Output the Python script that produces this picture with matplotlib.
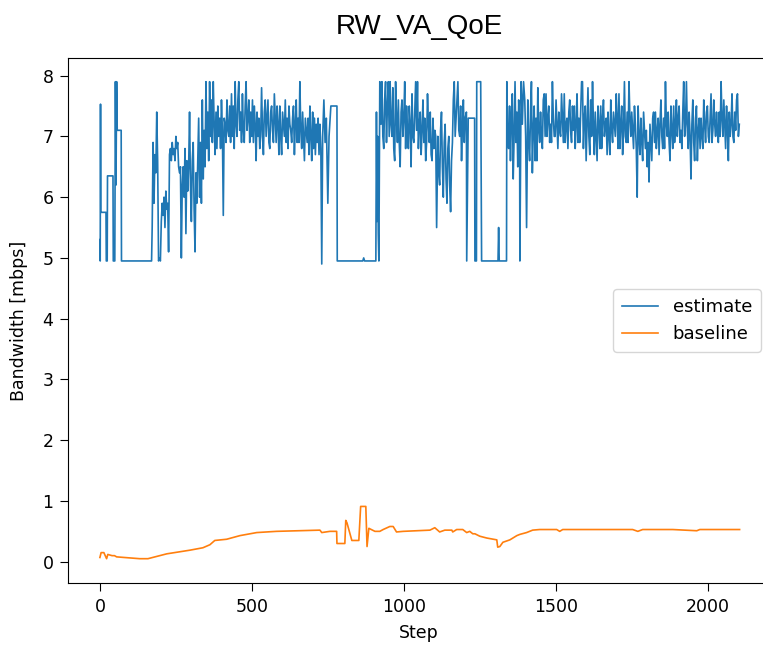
import numpy as np
import matplotlib
matplotlib.use("Agg")
import matplotlib.pyplot as plt

# estimate: irregular start (steps, values)
est_start_steps = [0, 1, 2, 3, 20, 21, 24, 25, 43, 44, 49, 51, 53, 55, 57, 70, 71, 170]
est_start_vals = [5.3, 4.95, 7.53, 5.75, 5.75, 4.95, 4.95, 6.35, 6.35, 4.95, 4.95, 7.9,
                  6.2, 7.9, 7.1, 7.1, 4.95, 4.95]

# estimate: noisy part, one value every 3 steps from step 172
est_a_vals = [5.5, 6.9, 5.9, 6.7, 6.4, 7.4, 6.6, 4.95, 5.0, 4.95,
              5.6, 5.9, 5.7, 6.0, 5.5, 6.1, 5.8, 5.9, 5.1, 6.7,
              6.8, 6.6, 6.9, 6.7, 6.8, 6.6, 7.0, 6.8, 6.9, 6.5,
              6.4, 6.5, 5.0, 6.2, 6.5, 6.0, 6.8, 5.4, 6.6, 6.1,
              6.5, 7.4, 6.2, 5.6, 6.6, 6.9, 5.8, 5.1, 6.4, 5.9,
              6.6, 7.3, 6.0, 6.9, 5.9, 7.6, 6.3, 7.1, 6.5, 7.9,
              6.8, 7.4, 6.6, 7.9, 7.0, 7.6, 6.9, 7.9, 7.2, 6.7,
              7.4, 6.8, 7.5, 7.0, 7.3, 6.8, 7.6, 7.1, 5.7, 7.3,
              7.2, 6.9, 7.6, 7.1, 7.0, 7.5, 6.9, 7.7, 7.0, 7.5,
              6.8, 7.9, 7.2, 7.0, 7.6, 7.9, 7.1, 7.4, 6.9, 7.7,
              7.1, 6.9, 7.5, 7.9, 7.1, 7.3, 7.6, 6.9, 7.4, 7.0,
              7.6, 6.9, 7.5, 7.2, 6.6, 7.4, 7.0, 7.3, 6.8, 7.0,
              7.8, 7.1, 6.7, 7.4, 7.6, 7.0, 7.3, 7.6, 6.9, 6.8,
              7.4, 7.5, 7.1, 6.9, 7.7, 7.3, 6.9, 7.5, 7.2, 6.7,
              7.5, 7.0, 6.7, 7.4, 7.2, 7.0, 7.6, 6.9, 7.3, 6.8,
              7.5, 7.2, 7.1, 6.9, 7.3, 7.5, 6.7, 7.2, 7.6, 6.9,
              7.3, 6.9, 7.9, 7.1, 6.8, 7.4, 7.0, 6.6, 7.3, 7.1,
              6.9, 7.3, 6.7, 7.5, 7.0, 6.6, 7.4, 6.8, 7.3, 6.7,
              7.2, 6.9, 7.3, 6.7, 7.2, 6.8, 4.9]

# estimate: drop-out around step 730-925
est_b_steps = [733, 737, 741, 745, 750, 754, 760, 780, 781, 865, 868, 871, 908, 910,
               912, 914, 916, 918, 921]
est_b_vals = [7.0, 7.6, 6.9, 7.3, 5.9, 7.0, 7.5, 7.5, 4.95, 4.95, 5.0, 4.95, 4.95, 7.4,
              5.6, 7.0, 5.4, 4.95, 7.9]

# estimate: noisy part, every 3 steps from 925
est_c_vals = [7.2, 7.9, 7.0, 6.8, 7.6, 7.9, 6.9, 7.5, 7.9, 7.0,
              7.9, 7.2, 7.0, 7.8, 6.8, 6.6, 7.9, 7.3, 6.9, 7.6,
              6.9, 6.5, 7.4, 7.6, 7.0, 7.3, 7.9, 6.8, 7.5, 7.1,
              6.8, 7.5, 7.2, 6.5, 7.7, 7.0, 6.9, 7.4, 7.9, 7.1,
              7.9, 6.8, 7.2, 7.4, 6.7, 7.1, 7.6, 6.9, 7.3, 6.6,
              6.9, 7.7, 7.2, 6.9, 7.4, 6.7, 6.6, 7.3, 6.8, 7.1,
              7.0]

# estimate: second drop-out 1108-1404
est_d_steps = [1108, 1112, 1115, 1118, 1121, 1124, 1127, 1130, 1133, 1136, 1139, 1142,
               1145, 1148, 1151, 1154, 1157, 1160, 1163, 1166, 1169, 1172, 1175, 1178,
               1181, 1184, 1187, 1190, 1193, 1196, 1199, 1202, 1206, 1207, 1212, 1233,
               1234, 1239, 1240, 1253, 1256, 1310, 1312, 1314, 1338, 1339, 1342, 1345,
               1348, 1351, 1354, 1357, 1360, 1363, 1366, 1369, 1372, 1375, 1378, 1381,
               1382, 1386, 1390, 1394, 1398, 1401, 1404]
est_d_vals = [5.5, 7.0, 6.4, 6.2, 7.1, 7.4, 6.5, 6.0, 6.9, 7.2, 6.3, 5.9,
              6.8, 7.0, 6.2, 5.76, 6.6, 6.9, 7.6, 7.9, 7.0, 7.3, 7.6, 7.9,
              7.1, 7.0, 7.5, 6.6, 7.2, 7.6, 6.9, 7.3, 7.4, 4.95, 7.3, 7.3,
              4.95, 4.95, 7.9, 7.9, 4.95, 4.95, 5.5, 4.95, 4.95, 7.9, 7.0, 6.8,
              7.5, 6.6, 7.3, 7.7, 6.3, 7.0, 7.9, 6.9, 7.4, 6.5, 7.6, 7.2,
              4.95, 7.9, 7.2, 7.9, 7.6, 7.0, 5.5]

# estimate: noisy tail, every 3 steps from 1408
est_e_vals = [7.6, 6.9, 6.6, 7.4, 7.9, 6.4, 7.1, 7.5, 6.6, 7.3,
              6.6, 7.8, 7.1, 6.9, 7.4, 7.0, 6.8, 7.6, 7.7, 7.0,
              7.7, 7.0, 7.3, 7.5, 6.9, 7.2, 6.9, 7.9, 7.3, 7.0,
              7.0, 7.6, 7.2, 6.8, 7.4, 7.1, 7.0, 7.7, 7.3, 6.9,
              7.7, 6.9, 7.2, 7.3, 6.8, 7.4, 7.6, 7.1, 6.9, 7.5,
              7.1, 7.5, 6.8, 7.2, 7.7, 6.9, 7.3, 6.9, 7.4, 7.9,
              7.9, 6.8, 7.3, 7.5, 6.6, 7.2, 7.8, 7.0, 6.7, 7.6,
              7.0, 7.9, 7.2, 6.7, 7.4, 7.0, 6.6, 7.5, 7.2, 6.8,
              7.5, 6.8, 7.3, 7.6, 7.0, 7.2, 7.3, 6.7, 7.4, 7.0,
              6.7, 7.6, 7.1, 6.9, 7.4, 7.2, 7.0, 7.7, 7.3, 6.8,
              7.7, 6.8, 7.2, 7.5, 6.7, 7.1, 7.9, 7.0, 6.9, 7.4,
              6.9, 7.9, 7.3, 7.0, 7.4, 7.1, 6.8, 7.5, 7.2, 6.8,
              6.0, 7.5, 7.0, 6.7, 7.3, 6.9, 6.6, 7.4, 7.1, 6.8,
              7.1, 6.5, 6.9, 6.25, 7.2, 6.9, 6.6, 7.3, 7.4, 6.9,
              7.4, 6.8, 7.1, 7.3, 6.7, 7.2, 7.6, 7.0, 6.8, 7.3,
              6.8, 7.9, 7.2, 7.0, 7.4, 6.9, 6.6, 7.5, 7.1, 6.8,
              7.5, 6.9, 7.2, 7.6, 7.0, 7.3, 7.5, 6.9, 7.1, 6.8,
              7.4, 7.9, 7.0, 7.2, 7.9, 7.1, 6.8, 7.4, 7.0, 6.3,
              7.2, 7.6, 6.9, 6.6, 7.3, 7.5, 6.6, 7.1, 7.3, 6.8,
              7.3, 7.0, 6.8, 7.6, 7.2, 6.9, 7.4, 7.5, 7.0, 6.9,
              7.3, 7.7, 6.9, 7.1, 7.6, 7.2, 7.0, 7.4, 7.1, 6.9,
              7.4, 7.0, 7.9, 7.3, 7.0, 7.6, 7.2, 6.8, 7.5, 7.1,
              6.6, 7.4, 7.0, 7.2, 7.7, 7.0, 6.9, 7.4, 7.1, 7.6,
              7.7, 7.0, 7.2]

# baseline
base_steps = [0, 4, 13, 22, 26, 40, 48, 55, 131, 158, 220, 296, 339, 362, 378, 417,
              461, 516, 581, 724, 730, 757, 779, 780, 806, 809, 813, 829, 852, 858,
              875, 879, 885, 905, 921, 932, 954, 965, 976, 998, 1086, 1102, 1118,
              1135, 1158, 1161, 1174, 1194, 1207, 1217, 1227, 1234, 1250, 1273, 1306,
              1309, 1316, 1326, 1349, 1372, 1382, 1404, 1424, 1447, 1503, 1513, 1523,
              1753, 1770, 1786, 1885, 1964, 1974, 2105]
base_vals = [0.07, 0.15, 0.15, 0.05, 0.12, 0.1, 0.1, 0.08, 0.05, 0.05, 0.13, 0.19,
             0.23, 0.28, 0.35, 0.37, 0.43, 0.48, 0.5, 0.52, 0.48, 0.5, 0.5, 0.3,
             0.3, 0.68, 0.64, 0.35, 0.35, 0.91, 0.91, 0.25, 0.55, 0.5, 0.5, 0.53,
             0.58, 0.58, 0.49, 0.5, 0.52, 0.56, 0.49, 0.52, 0.52, 0.49, 0.53, 0.53,
             0.48, 0.5, 0.46, 0.46, 0.42, 0.39, 0.36, 0.24, 0.25, 0.32, 0.36, 0.43,
             0.45, 0.48, 0.52, 0.53, 0.53, 0.5, 0.53, 0.53, 0.5, 0.53, 0.53, 0.51,
             0.53, 0.53]

est_steps = np.concatenate([
    est_start_steps,
    172 + 3 * np.arange(len(est_a_vals)),
    est_b_steps,
    925 + 3 * np.arange(len(est_c_vals)),
    est_d_steps,
    1408 + 3 * np.arange(len(est_e_vals)),
])
est_vals = np.concatenate([est_start_vals, est_a_vals, est_b_vals, est_c_vals,
                           est_d_vals, est_e_vals])

fig = plt.figure(figsize=(7.63, 6.46), dpi=100)
ax = fig.add_axes([68 / 763, 63 / 646, 702 / 763, 525 / 646])

ax.plot(est_steps, est_vals, color="#1f77b4", lw=1.2, label="estimate")
ax.plot(base_steps, base_vals, color="#ff7f0e", lw=1.2, label="baseline")

ax.set_ylim(-0.35, 8.29)
ax.set_xlim(-105, 2205)
ax.set_xticks([0, 500, 1000, 1500, 2000])
ax.tick_params(labelsize=12.5, length=5.5, pad=5)
ax.set_xlabel("Step", fontsize=12.5, labelpad=6)
ax.set_ylabel("Bandwidth [mbps]", fontsize=12.5, labelpad=10)
ax.legend(loc="center right", fontsize=13, borderpad=0.5)
ax.set_title("RW_VA_QoE", fontsize=20, family="Liberation Sans", pad=17)

fig.savefig("out.png", dpi=100)
